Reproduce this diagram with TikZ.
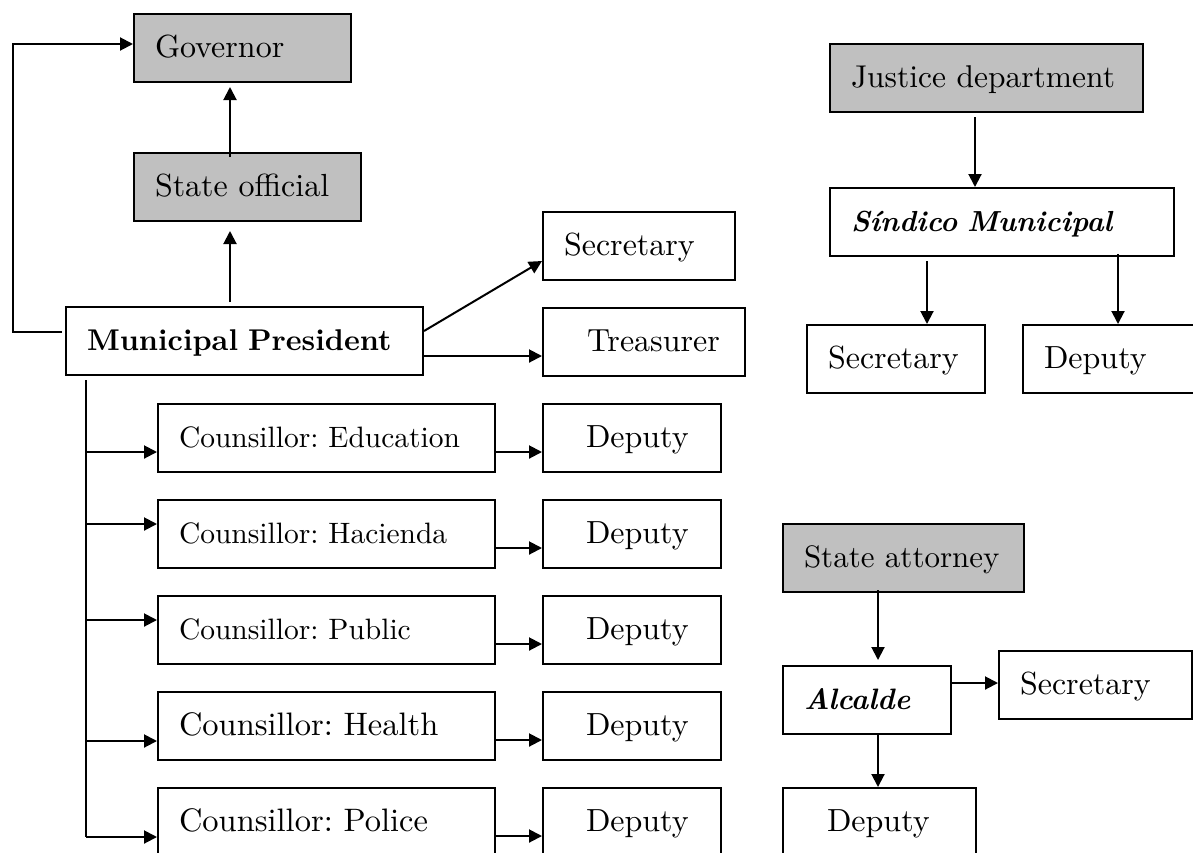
\documentclass[tikz,border=0pt]{standalone}
\usepackage{fontspec}
\setmainfont{lmroman10-regular.otf}[BoldFont=lmroman10-bold.otf, ItalicFont=lmroman10-italic.otf, BoldItalicFont=lmroman10-bolditalic.otf]
\usetikzlibrary{arrows.meta,calc}
\definecolor{office}{HTML}{C0C0C0}
\frenchspacing

\begin{document}
\begin{tikzpicture}[x=1pt, y=-1pt,
    unit/.style={draw, line width=2pt, anchor=north west, minimum height=68pt, inner sep=0pt,
      text width=#1, align=left, text height=23pt, text depth=5pt,
      font=\fontsize{32}{38}\selectfont, execute at begin node=\hspace*{21pt}},
    upper/.style={fill=office},
    link/.style={-{Triangle[length=13pt,width=13pt]}, line width=2pt},
    wire/.style={line width=2pt}]

  \useasboundingbox (0,0) rectangle (1193,852);
  \clip (0,0) rectangle (1193,852);

  % municipal side
  \node[unit=217pt, upper] (gov) at (133,13) {Governor};
  \node[unit=227pt, upper] (official) at (133,152) {State official};
  \node[unit=357pt, font=\fontsize{30}{36}\selectfont\bfseries] (pres) at (65,306) {Municipal President};
  \node[unit=192pt] (secr) at (542,211) {Secretary};
  \node[unit=202pt] (treas) at (542,307) {\hspace*{23pt}Treasurer};

  \draw[link, shorten <=4pt, shorten >=9pt] ([xshift=-14.5pt]pres.north) -- ([xshift=-14.5pt]pres.north |- official.south);
  \draw[link, shorten <=-5pt, shorten >=4pt] ([xshift=-17.5pt]official.north) -- ([xshift=-17.5pt]official.north |- gov.south);
  \draw[link] ([shift={(-3pt,9pt)}]pres.west) -- ++(-49pt,0pt) |- ([yshift=4pt]gov.west);
  \draw[link] ([yshift=10pt]pres.east) -- ([yshift=-15pt]secr.west);
  \draw[link] ([yshift=-15pt]pres.east) -- ([yshift=-15pt]pres.east -| treas.west);

  % counsillors
  \coordinate (bus) at ([xshift=21pt]pres.south west);
  \foreach \i/\topic/\fs/\dy in {1/Education/29.5/-14, 2/Hacienda/29.5/10, 3/Public/29.5/10, 4/Health/32.5/-15, 5/Police/32.5/-15} {
    \node[unit=337pt, font=\fontsize{\fs}{38}\selectfont] (c\i) at (157,{403+96*(\i-1)}) {Counsillor: \topic};
    \node[unit=178pt] (d\i) at (542,{403+96*(\i-1)}) {\hspace*{22pt}Deputy};
    \draw[link] ($(bus |- c\i.west)+(0pt,\dy pt)$) -- ([yshift=\dy pt]c\i.west);
    \draw[link] ([yshift=-14pt]c\i.east) -- ([yshift=-14pt]c\i.east -| d\i.west);
  }
  \draw[wire] ([yshift=-4pt]bus) -- ($(bus |- c5.west)+(0pt,-15pt)$);

  % justice side
  \node[unit=313pt, upper, font=\fontsize{31.5}{38}\selectfont] (justice) at (829,43) {Justice department};
  \node[unit=344pt, font=\fontsize{29}{35}\selectfont\bfseries\itshape] (sindico) at (829,187) {Síndico Municipal};
  \node[unit=178pt] (jsecr) at (806,324) {Secretary};
  \node[unit=200pt] (jdep) at (1022,324) {Deputy};

  \draw[link, shorten <=4pt] ([xshift=-11.5pt]justice.south) -- ([xshift=-11.5pt]justice.south |- sindico.north);
  \draw[link, shorten <=4pt] ([xshift=31pt]jsecr.north |- sindico.south) -- ([xshift=31pt]jsecr.north);
  \draw[link, shorten <=-3pt] ([xshift=96pt]jdep.north west |- sindico.south) -- ([xshift=96pt]jdep.north west);

  % attorney side
  \node[unit=241pt, upper, font=\fontsize{31}{38}\selectfont] (attorney) at (782,523) {State attorney};
  \node[unit=168pt, font=\fontsize{29.5}{35}\selectfont\bfseries\itshape] (alcalde) at (782,665) {Alcalde};
  \node[unit=193pt] (asecr) at (998,650) {Secretary};
  \node[unit=193pt] (adep) at (782,787) {\hspace*{23pt}Deputy};

  \draw[link, shorten <=-3pt, shorten >=5pt] ([xshift=96pt]attorney.south west) -- ([xshift=96pt]attorney.south west |- alcalde.north);
  \draw[link] ([xshift=96pt]alcalde.south west) -- ([xshift=96pt]alcalde.south west |- adep.north);
  \draw[link] ([yshift=17pt]alcalde.east) -- ([yshift=17pt]alcalde.east -| asecr.west);
\end{tikzpicture}
\end{document}
